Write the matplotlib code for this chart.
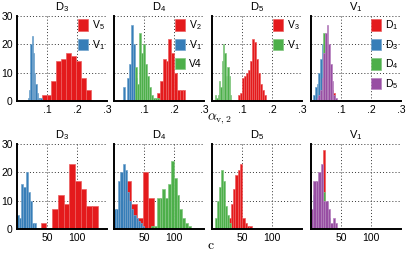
import numpy as np
import matplotlib
matplotlib.use('Agg')
import matplotlib.pyplot as plt
from matplotlib.colors import to_rgb

plt.rcParams['font.family'] = ['Liberation Sans', 'DejaVu Sans']
plt.rcParams['mathtext.fontset'] = 'custom'
plt.rcParams['mathtext.rm'] = 'Liberation Sans'
plt.rcParams['mathtext.it'] = 'Liberation Sans:italic'
plt.rcParams['mathtext.bf'] = 'Liberation Sans:bold'
plt.rcParams['mathtext.default'] = 'rm'

RED = '#e41a1c'
BLUE = '#377eb8'
GREEN = '#4daf4a'
PURPLE = '#984ea3'

# ---------------- data ----------------
titles = ['D$_3$', 'D$_4$', 'D$_5$', 'V$_1$']

top_xticks = [0.1, 0.2, 0.3]
top_xticklabels = ['.1', '.2', '.3']
bot_xticks = [50, 100, 150]
bot_xticklabels = ['50', '100', '']
yticks = [0, 10, 20, 30]

# top row: alpha_{v,2}  (bin start, bin width) and counts
a_d3_v5_bins = (0.082, 0.0164)
a_d3_v5 = [2, 2, 7, 14, 15, 17, 16, 14, 8, 4]
a_d3_v1_bins = (0.036, 0.0042)
a_d3_v1 = [1, 4, 20, 23, 17, 10, 6, 3, 1, 1, 1]

a_d4_v2_bins = (0.144, 0.0094)
a_d4_v2 = [3, 7, 15, 14, 22, 17, 10, 4, 4, 4]
a_d4_v1_bins = (0.029, 0.0067)
a_d4_v1 = [5, 0, 8, 13, 27, 20, 8, 3]
a_d4_v4_bins = (0.069, 0.0067)
a_d4_v4 = [12, 6, 24, 17, 20, 13, 9, 5, 2, 1, 1, 1]

a_d5_v3_bins = (0.0856, 0.00667)
a_d5_v3 = [2, 3, 8, 9, 10, 11, 14, 22, 21, 15, 10, 6, 4, 2]
a_d5_v1_bins = (0.01, 0.0045)
a_d5_v1 = [2, 1, 2, 7, 5, 14, 20, 17, 9, 12, 9, 2]

a_v1_d1_bins = (0.0356, 0.00556)
a_v1_d1 = [3, 10, 18, 20, 12, 6, 4, 3]
a_v1_d3_bins = (0.0078, 0.00556)
a_v1_d3 = [2, 5, 6, 10, 15, 20, 17, 10, 5, 2]
a_v1_d4_bins = (0.03, 0.00556)
a_v1_d4 = [2, 6, 24, 20, 12, 5]
a_v1_d5_bins = (0.0189, 0.00556)
a_v1_d5 = [1, 2, 4, 8, 17, 24, 27, 20, 13, 7, 2, 1]

# bottom row: c
c_d3_v5_bins = (39.5, 9.5)
c_d3_v5 = [2, 0, 7, 12, 9, 23, 17, 14, 8, 8]
c_d3_v1_bins = (0.0, 3.6)
c_d3_v1 = [5, 4, 16, 15, 20, 13, 10, 2, 2]

c_d4_v2_bins = (9.5, 9.5)
c_d4_v2 = [10, 17, 9, 4, 20, 11]
c_d4_v1_bins = (0.0, 3.6)
c_d4_v1 = [7, 7, 17, 20, 23, 21, 13, 10, 7, 5, 4, 3, 2, 1]
c_d4_v4_bins = (62.0, 4.7)
c_d4_v4 = [1, 1, 11, 11, 14, 11, 16, 24, 18, 12, 7, 4, 2, 1]

c_d5_v3_bins = (27.0, 3.9)
c_d5_v3 = [4, 9, 14, 19, 21, 23, 4, 2, 1, 1]
c_d5_v1_bins = (5.0, 3.33)
c_d5_v1 = [4, 10, 15, 21, 17, 8, 5, 2]

c_v1_d1_bins = (0.0, 4.0)
c_v1_d1 = [0, 3, 8, 12, 18, 28, 6, 3, 1]
c_v1_d3_bins = (0.0, 4.0)
c_v1_d3 = [5, 12, 14, 16, 18, 8, 6, 4, 1]
c_v1_d4_bins = (0.0, 4.0)
c_v1_d4 = [2, 6, 10, 12, 15, 13, 5, 3]
c_v1_d5_bins = (0.0, 4.0)
c_v1_d5 = [7, 17, 17, 20, 23, 10, 10, 7, 2, 4, 2]

top_panels = [
    [(a_d3_v5_bins, a_d3_v5, RED, 'V$_5$'), (a_d3_v1_bins, a_d3_v1, BLUE, 'V$_1$')],
    [(a_d4_v2_bins, a_d4_v2, RED, 'V$_2$'), (a_d4_v1_bins, a_d4_v1, BLUE, 'V$_1$'),
     (a_d4_v4_bins, a_d4_v4, GREEN, 'V4')],
    [(a_d5_v3_bins, a_d5_v3, RED, 'V$_3$'), (a_d5_v1_bins, a_d5_v1, GREEN, 'V$_1$')],
    [(a_v1_d1_bins, a_v1_d1, RED, 'D$_1$'), (a_v1_d3_bins, a_v1_d3, BLUE, 'D$_3$'),
     (a_v1_d4_bins, a_v1_d4, GREEN, 'D$_4$'), (a_v1_d5_bins, a_v1_d5, PURPLE, 'D$_5$')],
]
bot_panels = [
    [(c_d3_v5_bins, c_d3_v5, RED, None), (c_d3_v1_bins, c_d3_v1, BLUE, None)],
    [(c_d4_v2_bins, c_d4_v2, RED, None), (c_d4_v1_bins, c_d4_v1, BLUE, None),
     (c_d4_v4_bins, c_d4_v4, GREEN, None)],
    [(c_d5_v3_bins, c_d5_v3, RED, None), (c_d5_v1_bins, c_d5_v1, GREEN, None)],
    [(c_v1_d1_bins, c_v1_d1, RED, None), (c_v1_d3_bins, c_v1_d3, BLUE, None),
     (c_v1_d4_bins, c_v1_d4, GREEN, None), (c_v1_d5_bins, c_v1_d5, PURPLE, None)],
]

# ---------------- drawing ----------------
W, H = 415, 258
fig = plt.figure(figsize=(W / 100, H / 100), dpi=100)

lefts = [17, 114, 212, 311]
ax_w, ax_h = 90, 85
tops = [16, 144]
FS = 7.5


def light(c, f=0.3):
    r, g, b = to_rgb(c)
    return (r + (1 - r) * f, g + (1 - g) * f, b + (1 - b) * f)


def draw(ax, series, xlim, xticks, xticklabels, show_y, title, legend):
    for (start, width), counts, color, label in series:
        n = len(counts)
        edges = start + width * np.arange(n + 1)
        centers = edges[:-1] + width / 2
        ax.hist(centers, bins=edges, weights=counts, color=color,
                edgecolor=light(color), linewidth=0.5, label=label)
    ax.set_xlim(*xlim)
    ax.set_ylim(0, 30)
    ax.set_xticks(xticks)
    ax.set_xticklabels(xticklabels)
    ax.set_yticks(yticks)
    ax.tick_params(length=0, labelsize=FS, pad=3.0, labelleft=show_y)
    ax.set_axisbelow(True)
    ax.grid(True, linestyle=(0, (1, 2.2)), color='#333333', linewidth=0.7)
    for s in ['top', 'right']:
        ax.spines[s].set_visible(False)
    for s in ['left', 'bottom']:
        ax.spines[s].set_linewidth(1.4)
    ax.set_title(title, fontsize=FS + 0.5, pad=4.5)
    if legend:
        ax.legend(loc='upper right', bbox_to_anchor=(1.0, 1.0), frameon=False,
                  fontsize=FS, handlelength=1.0, handleheight=1.3,
                  handletextpad=0.35, labelspacing=0.55, borderaxespad=0.1,
                  borderpad=0.15)


for row, (panels, top) in enumerate(zip([top_panels, bot_panels], tops)):
    for col, series in enumerate(panels):
        ax = fig.add_axes([lefts[col] / W, 1 - (top + ax_h) / H, ax_w / W, ax_h / H])
        if row == 0:
            draw(ax, series, (0, 0.3), top_xticks, top_xticklabels, col == 0,
                 titles[col], True)
        else:
            draw(ax, series, (0, 150), bot_xticks, bot_xticklabels, col == 0,
                 titles[col], False)

fig.text(207 / W, 1 - 119 / H, r'$\alpha_{v,2}$', math_fontfamily='cm',
         ha='left', va='center', fontsize=10)
fig.text(207 / W, 1 - 245 / H, r'$c$', math_fontfamily='cm',
         ha='left', va='center', fontsize=10)

fig.savefig('out.png', dpi=100)
